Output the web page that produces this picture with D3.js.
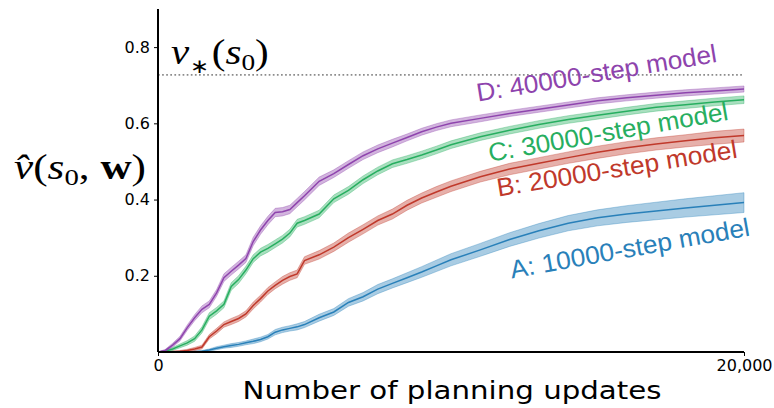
<html>
<head>
  <meta charset="utf-8">
  <script src="https://d3js.org/d3.v7.min.js"></script>
  <style>
    body { margin: 0; background: #fff; }
  </style>
  <script>
    // planning updates (x) and mean value estimates for each model
    var updates = [0,250,500,750,1000,1250,1500,1750,2000,2250,2500,2750,3000,3250,3500,3750,4000,4250,4500,4750,5000,
                   5500,6000,6500,7000,7500,8000,8500,9000,9500,10000,
                   11000,12000,13000,14000,15000,16000,17000,18000,19000,20000];

    var modelA = [0,0,0,0,0,0.001,0.002,0.005,0.01,0.014,0.017,0.02,0.024,0.028,0.033,0.04,0.052,0.058,0.062,0.066,0.072,
                  0.09,0.105,0.13,0.145,0.165,0.18,0.195,0.21,0.226,0.242,
                  0.268,0.295,0.318,0.338,0.352,0.362,0.37,0.378,0.385,0.392];
    var modelB = [0,0,0.001,0.002,0.004,0.008,0.013,0.04,0.055,0.072,0.08,0.088,0.1,0.122,0.14,0.16,0.175,0.188,0.198,0.205,0.24,
                  0.255,0.275,0.3,0.322,0.345,0.362,0.385,0.404,0.42,0.435,
                  0.46,0.48,0.495,0.51,0.524,0.536,0.546,0.554,0.562,0.568];
    var modelC = [0,0.002,0.008,0.016,0.024,0.035,0.058,0.094,0.108,0.125,0.172,0.19,0.215,0.245,0.262,0.272,0.284,0.296,0.312,0.338,0.345,
                  0.362,0.402,0.424,0.452,0.475,0.494,0.505,0.517,0.53,0.544,
                  0.565,0.582,0.597,0.61,0.621,0.632,0.642,0.649,0.656,0.662];
    var modelD = [0,0.004,0.018,0.035,0.064,0.09,0.112,0.125,0.155,0.195,0.212,0.228,0.245,0.29,0.32,0.345,0.366,0.368,0.374,0.392,0.41,
                  0.448,0.468,0.492,0.515,0.533,0.548,0.563,0.578,0.59,0.6,
                  0.613,0.626,0.637,0.648,0.659,0.667,0.674,0.68,0.685,0.69];

    // half width of the shaded band (standard error)
    var spreadA = [0,0,0,0,0,0.001,0.002,0.003,0.004,0.004,0.005,0.005,0.005,0.006,0.006,0.006,0.007,0.007,0.007,0.008,0.008,
                   0.009,0.009,0.01,0.011,0.012,0.012,0.013,0.014,0.015,0.016,
                   0.017,0.018,0.019,0.02,0.021,0.022,0.023,0.024,0.025,0.026];
    var spreadB = [0,0,0.001,0.002,0.003,0.004,0.005,0.006,0.007,0.007,0.008,0.008,0.008,0.009,0.009,0.009,0.009,0.01,0.01,0.01,0.01,
                   0.011,0.011,0.012,0.012,0.012,0.013,0.013,0.013,0.014,0.014,
                   0.014,0.015,0.015,0.015,0.016,0.016,0.016,0.016,0.017,0.017];
    var spreadC = [0,0.002,0.004,0.005,0.006,0.007,0.008,0.009,0.009,0.009,0.01,0.01,0.01,0.01,0.01,0.01,0.01,0.01,0.01,0.01,0.01,
                   0.01,0.01,0.01,0.01,0.01,0.01,0.01,0.01,0.01,0.01,
                   0.01,0.01,0.01,0.01,0.01,0.01,0.01,0.01,0.01,0.01];
    var spreadD = [0,0.003,0.005,0.006,0.007,0.008,0.009,0.009,0.009,0.01,0.01,0.01,0.01,0.011,0.011,0.011,0.011,0.011,0.011,0.011,0.011,
                   0.011,0.01,0.01,0.01,0.01,0.01,0.009,0.009,0.009,0.009,
                   0.009,0.008,0.008,0.008,0.008,0.008,0.008,0.008,0.008,0.008];

    var labels = ["A: 10000-step model", "B: 20000-step model", "C: 30000-step model", "D: 40000-step model"];
    var colors = ["#2980b9", "#c0392b", "#27ae60", "#8e44ad"];
    var vStar = 0.727;
    var xTicks = [0, 20000];
    var yTicks = [0.2, 0.4, 0.6, 0.8];

    function makeChart() {
        var svg = d3.select("#chart");
        var x = d3.scaleLinear().domain([0, 20000]).range([158, 744]);
        var y = d3.scaleLinear().domain([0, 0.9]).range([352, 9]);

        var series = [
            { name: labels[0], mean: modelA, sd: spreadA, color: colors[0], lx: 12072, ly: 0.193, rot: -10.2 },
            { name: labels[1], mean: modelB, sd: spreadB, color: colors[1], lx: 11614, ly: 0.408, rot: -9.2 },
            { name: labels[2], mean: modelC, sd: spreadC, color: colors[2], lx: 11331, ly: 0.499, rot: -10 },
            { name: labels[3], mean: modelD, sd: spreadD, color: colors[3], lx: 10922, ly: 0.657, rot: -9.4 }
        ];

        // optimal value line
        svg.append("line")
            .attr("x1", x(0)).attr("x2", x(20000))
            .attr("y1", y(vStar)).attr("y2", y(vStar))
            .attr("stroke", "#8c8c8c").attr("stroke-width", 1.7)
            .attr("stroke-dasharray", "1.7,2.4");

        var area = d3.area()
            .x((d, i) => x(updates[i]))
            .y0(d => y(d[0] - d[1]))
            .y1(d => y(d[0] + d[1]));
        var line = d3.line()
            .x((d, i) => x(updates[i]))
            .y(d => y(d));

        var g = svg.selectAll("g.series").data(series).enter()
            .append("g").attr("class", "series");

        g.append("path")
            .attr("d", s => area(s.mean.map((m, i) => [m, s.sd[i]])))
            .attr("fill", s => s.color).attr("fill-opacity", 0.4)
            .attr("stroke", s => s.color).attr("stroke-opacity", 0.35).attr("stroke-width", 1);

        g.append("path")
            .attr("d", s => line(s.mean))
            .attr("fill", "none").attr("stroke", s => s.color).attr("stroke-width", 1.5);

        g.append("text")
            .attr("transform", s => "translate(" + x(s.lx) + "," + y(s.ly) + ") rotate(" + s.rot + ")")
            .attr("font-family", "Liberation Sans, Arial, sans-serif")
            .attr("font-size", 25.5)
            .attr("textLength", 243).attr("lengthAdjust", "spacingAndGlyphs")
            .attr("fill", s => s.color)
            .text(s => s.name);

        // axes
        var xAxis = d3.axisBottom(x).tickValues(xTicks).tickSize(4).tickPadding(4)
            .tickFormat(d3.format(","));
        var yAxis = d3.axisLeft(y).tickValues(yTicks).tickSize(4).tickPadding(4)
            .tickFormat(d3.format(".1f"));

        var gx = svg.append("g").attr("transform", "translate(0,352)").call(xAxis);
        var gy = svg.append("g").attr("transform", "translate(158,0)").call(yAxis);
        [gx, gy].forEach(a => {
            a.select(".domain").attr("stroke", "#000").attr("stroke-width", 2);
            a.selectAll(".tick line").attr("stroke", "#000").attr("stroke-width", 1);
            a.selectAll("text").attr("font-family", "DejaVu Sans, sans-serif")
                .attr("font-size", 16).attr("fill", "#000");
        });
        gy.select(".domain").attr("d", "M0," + y(0.9) + "V352");
        gx.select(".domain").attr("d", "M158,0H744");

        svg.append("text")
            .attr("x", 452).attr("y", 399)
            .attr("text-anchor", "middle")
            .attr("font-family", "DejaVu Sans, sans-serif")
            .attr("font-size", 25)
            .attr("textLength", 419).attr("lengthAdjust", "spacingAndGlyphs")
            .text("Number of planning updates");

        // math labels
        var vs = svg.append("text")
            .attr("transform", "translate(171,64) scale(1.14,1)")
            .attr("font-family", "Liberation Serif, serif").attr("font-size", 36);
        vs.append("tspan").attr("font-style", "italic").text("v");
        vs.append("tspan").attr("font-size", 20).attr("dy", 9).attr("dx", 1).text("\u2217");
        vs.append("tspan").attr("dy", -9).attr("dx", 2).text("(");
        vs.append("tspan").attr("font-style", "italic").text("s");
        vs.append("tspan").attr("font-size", 24).attr("dy", 6).text("0");
        vs.append("tspan").attr("dy", -6).text(")");

        var vh = svg.append("text")
            .attr("transform", "translate(14,179) scale(1.2,1)")
            .attr("font-family", "Liberation Serif, serif").attr("font-size", 36);
        vh.append("tspan").attr("font-style", "italic").text("v\u0302");
        vh.append("tspan").text("(");
        vh.append("tspan").attr("font-style", "italic").text("s");
        vh.append("tspan").attr("font-size", 24).attr("dy", 6).text("0");
        vh.append("tspan").attr("dy", -6).text(", ");
        vh.append("tspan").attr("font-weight", "bold").text("w");
        vh.append("tspan").text(")");
    }
  </script>
</head>
<body onload="makeChart()">
  <svg id="chart" width="774" height="408"></svg>
</body>
</html>
